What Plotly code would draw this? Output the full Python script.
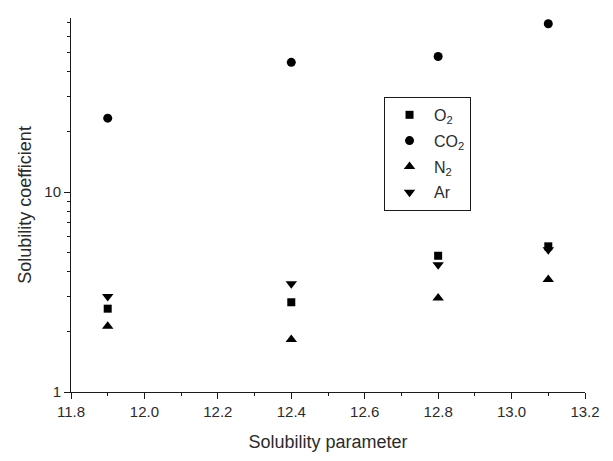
import plotly.graph_objects as go

# Data
solubility_parameter = [11.9, 12.4, 12.8, 13.1]
o2_values = [2.61, 2.81, 4.80, 5.35]
co2_values = [23.4, 44.5, 47.6, 69.4]
n2_values = [2.13, 1.83, 2.95, 3.65]
ar_values = [3.0, 3.48, 4.33, 5.14]

series_names = ["O<sub>2</sub>", "CO<sub>2</sub>", "N<sub>2</sub>", "Ar"]
x_tick_values = [11.8, 12.0, 12.2, 12.4, 12.6, 12.8, 13.0, 13.2]
x_tick_labels = ["11.8", "12.0", "12.2", "12.4", "12.6", "12.8", "13.0", "13.2"]
x_minor_ticks = [11.9, 12.1, 12.3, 12.5, 12.7, 12.9, 13.1]
y_tick_values = [1, 10]
y_tick_labels = ["1", "10"]
y_minor_ticks = [2, 3, 4, 5, 6, 7, 8, 9, 20, 30, 40, 50, 60, 70]

FONT = "Liberation Sans, Arial, sans-serif"
LINE = "#1a1a1a"
TEXT = "#2b2b2b"

fig = go.Figure()
styles = [
    ("square", 8, o2_values),
    ("circle", 9, co2_values),
    ("triangle-up", 10, n2_values),
    ("triangle-down", 10, ar_values),
]
for i, (name, (sym, size, vals)) in enumerate(zip(series_names, styles)):
    fig.add_trace(go.Scatter(
        x=solubility_parameter, y=vals, mode="markers", name=name,
        legendgroup=f"g{i}",
        marker=dict(symbol=sym, size=size, color="black", line=dict(width=0)),
    ))

fig.update_layout(
    width=613, height=461,
    margin=dict(l=71, r=28, t=18, b=69),
    paper_bgcolor="white", plot_bgcolor="white",
    font=dict(family=FONT, color=TEXT, size=15),
    showlegend=True,
    legend=dict(
        x=0.609, y=0.789, xanchor="left", yanchor="top",
        bordercolor=LINE, borderwidth=1, bgcolor="white",
        font=dict(family=FONT, size=16, color=TEXT),
        itemwidth=39, tracegroupgap=2,
    ),
)
fig.update_xaxes(
    range=[11.8, 13.2], showgrid=False, zeroline=False,
    showline=True, linecolor=LINE, linewidth=1,
    tickmode="array", tickvals=x_tick_values, ticktext=x_tick_labels,
    ticks="outside", ticklen=6, tickcolor=LINE, tickwidth=1,
    tickfont=dict(size=15, color=TEXT),
    minor=dict(tickvals=x_minor_ticks, ticks="outside", ticklen=3, tickcolor=LINE, tickwidth=1),
    title=dict(text="Solubility parameter", font=dict(size=18, color=TEXT), standoff=16),
)
fig.update_yaxes(
    type="log", range=[0, 1.87], showgrid=False, zeroline=False,
    showline=True, linecolor=LINE, linewidth=1,
    tickmode="array", tickvals=y_tick_values, ticktext=y_tick_labels,
    ticks="outside", ticklen=6, tickcolor=LINE, tickwidth=1,
    tickfont=dict(size=15, color=TEXT),
    minor=dict(tickvals=y_minor_ticks, ticks="outside", ticklen=3, tickcolor=LINE, tickwidth=1),
    title=dict(text="Solubility coefficient", font=dict(size=18, color=TEXT), standoff=8),
)

fig.write_html("out.html")
